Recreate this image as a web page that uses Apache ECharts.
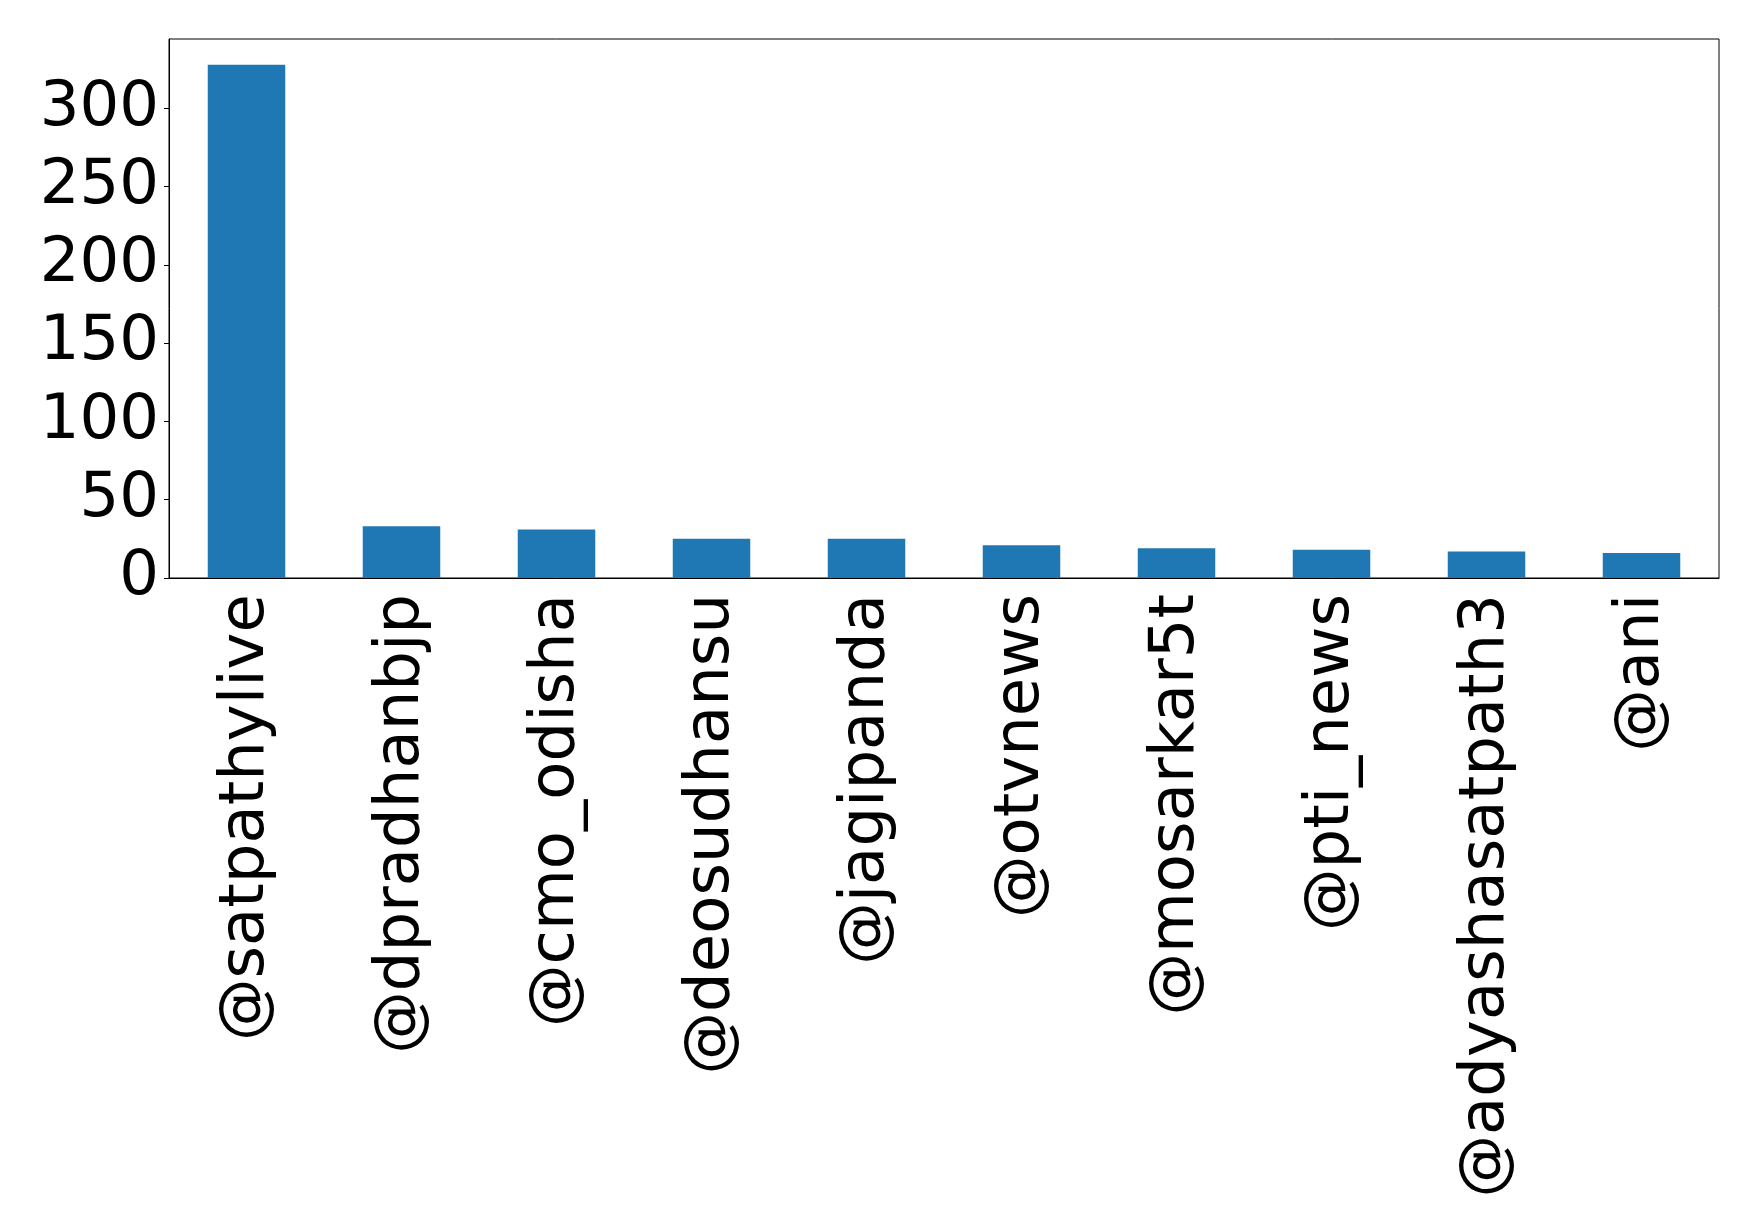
<!DOCTYPE html>
<html>
<head>
<meta charset="utf-8">
<script src="https://cdn.jsdelivr.net/npm/echarts@6/dist/echarts.min.js"></script>
<style>
  html, body { margin: 0; padding: 0; background: #fff; }
  #chart { width: 1759px; height: 1231px; }
</style>
</head>
<body>
<div id="chart"></div>
<script>
// mention counts per account
const categories = [
  "@satpathylive", "@dpradhanbjp", "@cmo_odisha", "@deosudhansu", "@jagipanda",
  "@otvnews", "@mosarkar5t", "@pti_news", "@adyashasatpath3", "@ani"
];
const counts = [328, 33, 31, 25, 25, 21, 19, 18, 17, 16];
const yTicks = [0, 50, 100, 150, 200, 250, 300];

const chart = echarts.init(document.getElementById("chart"));

const labelFont = {
  color: "#000",
  fontFamily: "DejaVu Sans",
  fontSize: 62.5
};

chart.setOption({
  animation: false,
  grid: {
    left: 169,
    top: 39,
    width: 1550,
    height: 539,
    show: true,
    borderColor: "#000",
    borderWidth: 1,
    outerBoundsMode: "none"
  },
  xAxis: {
    type: "category",
    data: categories,
    axisLine: { lineStyle: { color: "#000", width: 1 } },
    axisTick: { alignWithLabel: true, length: 5, lineStyle: { color: "#000" } },
    axisLabel: { ...labelFont, rotate: 90, margin: 16, interval: 0 },
    splitLine: { show: false }
  },
  yAxis: {
    type: "value",
    min: 0,
    max: 344.4,
    interval: 50,
    axisLine: { show: true, lineStyle: { color: "#000", width: 1 } },
    axisTick: { show: true, length: 5, customValues: yTicks, lineStyle: { color: "#000" } },
    axisLabel: { ...labelFont, margin: 10, customValues: yTicks },
    splitLine: { show: false }
  },
  series: [{
    type: "bar",
    data: counts,
    barWidth: "50%",
    itemStyle: { color: "#1f77b4" }
  }]
});
</script>
</body>
</html>
